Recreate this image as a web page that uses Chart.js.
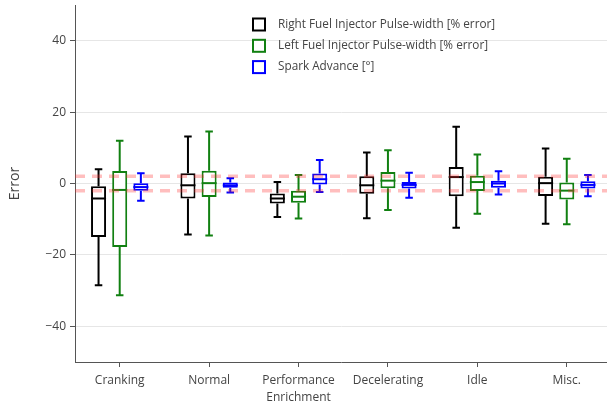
<!DOCTYPE html>
<html>
<head>
<meta charset="utf-8">
<script src="https://cdn.jsdelivr.net/npm/chart.js@4/dist/chart.umd.min.js"></script>
<style>
  html, body { margin: 0; padding: 0; background: #fff; overflow: hidden; }
  #grafico { display: block; }
</style>
</head>
<body>
<canvas id="grafico" width="607" height="406"></canvas>
<script>
// ---- DATOS ----
const categories = ["Cranking", "Normal", ["Performance", "Enrichment"], "Decelerating", "Idle", "Misc."];
const yTicks = [-40, -20, 0, 20, 40];
const tolerance = [2, -2];

// each box: [whisker low, q1, median, q3, whisker high]
const rightFuel = [
  [-28.5, -15.0, -4.2, -0.8, 4.0],
  [-14.3, -4.2, -0.5, 2.9, 13.2],
  [-9.4, -5.6, -4.2, -2.8, 0.4],
  [-9.7, -2.9, -0.5, 2.0, 8.7],
  [-12.4, -3.6, 1.8, 4.6, 15.9],
  [-11.3, -3.5, 0.1, 1.9, 9.8]
];
const leftFuel = [
  [-31.3, -17.8, -1.8, 3.5, 12.0],
  [-14.6, -3.8, 0.1, 3.6, 14.6],
  [-9.8, -5.4, -3.7, -2.0, 2.4],
  [-7.4, -1.3, 0.8, 3.2, 9.3],
  [-8.5, -2.1, 0.4, 2.2, 8.1],
  [-11.4, -4.5, -2.0, 0.3, 6.9]
];
const sparkAdvance = [
  [-4.8, -2.0, -1.0, 0.1, 2.9],
  [-2.5, -1.2, -0.5, 0.3, 1.5],
  [-2.4, -0.3, 1.2, 2.8, 6.6],
  [-4.0, -1.4, -0.4, 0.4, 3.0],
  [-3.1, -1.2, 0.0, 0.8, 3.4],
  [-3.6, -1.4, -0.4, 0.6, 2.4]
];

const series = [
  { label: "Right Fuel Injector Pulse-width [% error]", color: "#000000", boxes: rightFuel },
  { label: "Left Fuel Injector Pulse-width [% error]", color: "#118011", boxes: leftFuel },
  { label: "Spark Advance [°]", color: "#0000ff", boxes: sparkAdvance }
];

const FONT = "'Open Sans', 'Noto Sans', sans-serif";
const TEXT = "#444444";

// ---- BIGOTES, MEDIANAS, TOLERANCIA Y LEYENDA ----
const boxPlugin = {
  id: "boxExtras",
  beforeDatasetsDraw(chart) {
    const c = chart.ctx;
    const y = chart.scales.y;
    c.save();
    series.forEach((s, d) => {
      const meta = chart.getDatasetMeta(d);
      c.strokeStyle = s.color;
      c.lineWidth = 2;
      meta.data.forEach((bar, i) => {
        const b = s.boxes[i];
        const cap = bar.width * 0.5;
        c.beginPath();
        c.moveTo(bar.x, y.getPixelForValue(b[0]));
        c.lineTo(bar.x, y.getPixelForValue(b[1]));
        c.moveTo(bar.x, y.getPixelForValue(b[3]));
        c.lineTo(bar.x, y.getPixelForValue(b[4]));
        c.moveTo(bar.x - cap / 2, y.getPixelForValue(b[0]));
        c.lineTo(bar.x + cap / 2, y.getPixelForValue(b[0]));
        c.moveTo(bar.x - cap / 2, y.getPixelForValue(b[4]));
        c.lineTo(bar.x + cap / 2, y.getPixelForValue(b[4]));
        c.stroke();
      });
    });
    c.restore();
  },
  afterDatasetsDraw(chart) {
    const c = chart.ctx;
    const y = chart.scales.y;
    const area = chart.chartArea;
    c.save();
    series.forEach((s, d) => {
      const meta = chart.getDatasetMeta(d);
      c.strokeStyle = s.color;
      c.lineWidth = 2;
      meta.data.forEach((bar, i) => {
        const py = y.getPixelForValue(s.boxes[i][2]);
        c.beginPath();
        c.moveTo(bar.x - bar.width / 2, py);
        c.lineTo(bar.x + bar.width / 2, py);
        c.stroke();
      });
    });
    // tolerance band
    c.beginPath();
    c.rect(area.left, area.top, area.right - area.left, area.bottom - area.top);
    c.clip();
    c.strokeStyle = "rgba(255, 40, 40, 0.3)";
    c.lineWidth = 3.5;
    c.setLineDash([10, 7]);
    tolerance.forEach(t => {
      const py = y.getPixelForValue(t);
      c.beginPath();
      c.moveTo(area.left, py);
      c.lineTo(area.right, py);
      c.stroke();
    });
    c.restore();
  },
  afterDraw(chart) {
    const c = chart.ctx;
    c.save();
    c.font = "11.75px " + FONT;
    c.textBaseline = "middle";
    series.forEach((s, d) => {
      const cy = 24.5 + d * 21.3;
      c.strokeStyle = s.color;
      c.lineWidth = 2;
      c.strokeRect(253, cy - 6, 12, 12);
      c.fillStyle = TEXT;
      c.fillText(s.label, 278, cy);
    });
    c.restore();
  }
};

// ---- GRÁFICO ----
const ctx = document.getElementById("grafico").getContext("2d");
const grafico = new Chart(ctx, {
  type: "bar",
  data: {
    datasets: series.map(s => ({
      label: s.label,
      data: s.boxes.map((b, i) => ({ x: i, y: [b[1], b[3]] })),
      backgroundColor: "#ffffff",
      borderColor: s.color,
      borderWidth: 2,
      borderSkipped: false,
      categoryPercentage: 0.71,
      barPercentage: 0.71
    }))
  },
  options: {
    responsive: false,
    animation: false,
    devicePixelRatio: 1,
    layout: { padding: { top: 5, left: 0, right: 0, bottom: 0 } },
    plugins: {
      legend: { display: false },
      tooltip: { enabled: false }
    },
    scales: {
      x: {
        type: "linear",
        offset: false,
        min: -0.5,
        max: 5.45,
        afterBuildTicks: scale => { scale.ticks = categories.map((c, i) => ({ value: i })); },
        afterFit: scale => { scale.height = 44; scale.paddingLeft = 0; scale.paddingRight = 0; },
        ticks: {
          autoSkip: false,
          maxRotation: 0,
          padding: 5,
          color: TEXT,
          font: { family: FONT, size: 12, lineHeight: 1.4 },
          callback: v => categories[v]
        },
        grid: { offset: false, drawOnChartArea: false, drawTicks: true, tickLength: 5, tickColor: "#555555" },
        border: { display: true, color: "#555555", width: 1 }
      },
      y: {
        min: -50,
        max: 50,
        afterBuildTicks: scale => { scale.ticks = yTicks.map(v => ({ value: v })); },
        afterFit: scale => { scale.width = 75; scale.paddingTop = 0; scale.paddingBottom = 0; },
        ticks: {
          padding: 4,
          color: TEXT,
          font: { family: FONT, size: 12 },
          callback: v => (v < 0 ? "\u2212" + Math.abs(v) : String(v))
        },
        grid: { color: "#e6e6e6", lineWidth: 1, tickLength: 5, tickColor: "#555555" },
        border: { display: true, color: "#555555", width: 1 },
        title: {
          display: true,
          text: "Error",
          color: TEXT,
          font: { family: FONT, size: 14 },
          padding: { top: 7, bottom: 4 }
        }
      }
    }
  },
  plugins: [boxPlugin]
});
</script>
</body>
</html>
